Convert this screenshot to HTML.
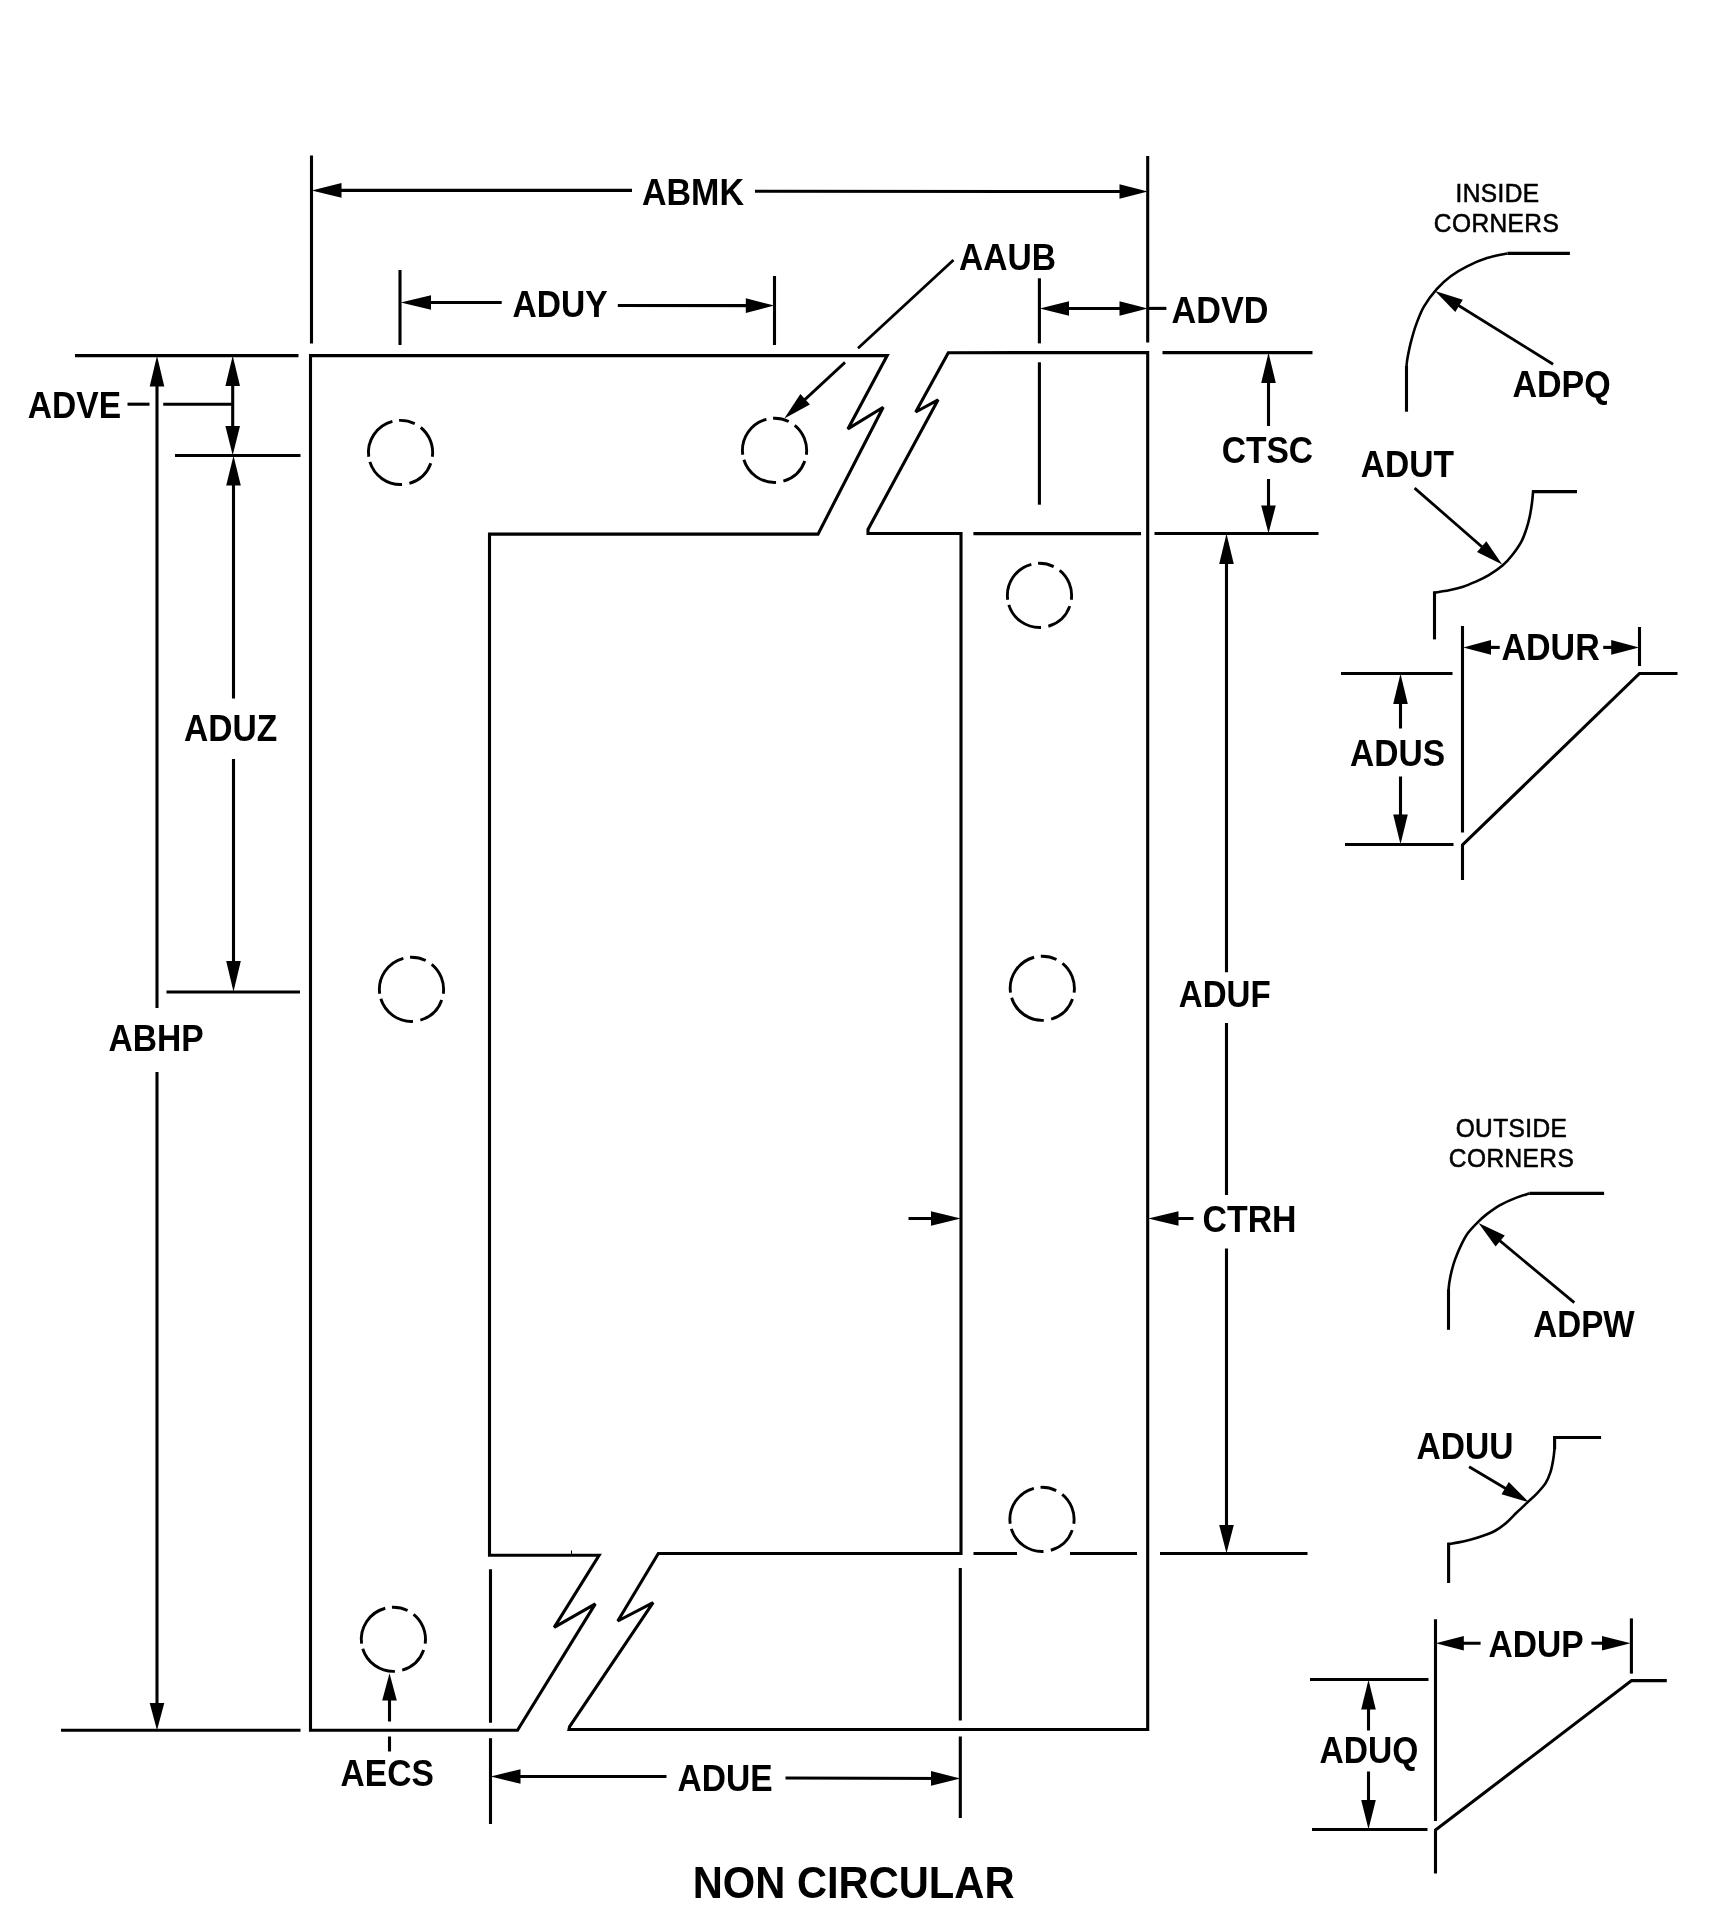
<!DOCTYPE html>
<html><head><meta charset="utf-8"><title>NON CIRCULAR</title>
<style>
html,body{margin:0;padding:0;background:#fff;}
body{width:1712px;height:1916px;overflow:hidden;}
svg{display:block;will-change:transform;}
svg line,svg path{stroke:#000;stroke-width:3.1;fill:none;stroke-linecap:butt;stroke-linejoin:miter;stroke-miterlimit:2.2;}
svg .ah{fill:#000;stroke:none;}
svg text{font-family:"Liberation Sans",sans-serif;fill:#000;}
</style></head><body>
<svg width="1712" height="1916" viewBox="0 0 1712 1916">
<rect x="0" y="0" width="1712" height="1916" fill="#fff" stroke="none"/>
<path d="M517.5,1730.2 L310.5,1730.2 L310.5,355.6 L887.2,355.6 L847.9,428.9 L883.2,407.2 L818,534.1 L489.5,534.1 L489.5,1555.3 L599.1,1555.3 L554.2,1627.4 L595.3,1603.9 L517.5,1730.2 Z"/>
<path d="M948.3,352.7 L1147.7,352.6 L1147.7,1729.5 L569,1729.5 L569.6,1726.6 L653.1,1602.6 L617.8,1621 L658.3,1553.5 L961,1553.5 L961,533.5 L868,533.5 L868,529.4 L938.1,399.8 L915.7,412 Z"/>
<line x1="571.5" y1="1550.5" x2="571.5" y2="1554" style="stroke-width:1"/>
<line x1="973.4" y1="533.6" x2="1141" y2="533.6"/>
<line x1="973.5" y1="1553.5" x2="1017" y2="1553.5"/>
<line x1="1070" y1="1553.5" x2="1137" y2="1553.5"/>
<line x1="490.5" y1="1569.2" x2="490.5" y2="1722.8"/>
<line x1="490.5" y1="1738.2" x2="490.5" y2="1824"/>
<line x1="960.3" y1="1568" x2="960.3" y2="1720.5"/>
<line x1="960.3" y1="1736.5" x2="960.3" y2="1818"/>
<line x1="1039.4" y1="278.3" x2="1039.4" y2="343.4"/>
<line x1="1039.4" y1="362.3" x2="1039.4" y2="504.7"/>
<path d="M399.09,420.38 A32.1,32.1 0 0 1 414.72,423.65 M420.75,427.50 A32.1,32.1 0 0 1 432.35,456.81 M430.81,463.17 A32.1,32.1 0 0 1 409.40,483.31 M402.06,484.51 A32.1,32.1 0 0 1 369.87,461.89 M368.75,456.81 A32.1,32.1 0 0 1 392.40,421.40" style="stroke-width:2.9"/>
<path d="M773.09,418.28 A32.1,32.1 0 0 1 788.72,421.55 M794.75,425.40 A32.1,32.1 0 0 1 806.35,454.71 M804.81,461.07 A32.1,32.1 0 0 1 783.40,481.21 M776.06,482.41 A32.1,32.1 0 0 1 743.87,459.79 M742.75,454.71 A32.1,32.1 0 0 1 766.40,419.30" style="stroke-width:2.9"/>
<path d="M1038.04,563.33 A32.1,32.1 0 0 1 1053.67,566.60 M1059.70,570.45 A32.1,32.1 0 0 1 1071.30,599.76 M1069.76,606.12 A32.1,32.1 0 0 1 1048.35,626.26 M1041.01,627.46 A32.1,32.1 0 0 1 1008.82,604.84 M1007.70,599.76 A32.1,32.1 0 0 1 1031.35,564.35" style="stroke-width:2.9"/>
<path d="M410.04,957.28 A32.1,32.1 0 0 1 425.67,960.55 M431.70,964.40 A32.1,32.1 0 0 1 443.30,993.71 M441.76,1000.07 A32.1,32.1 0 0 1 420.35,1020.21 M413.01,1021.41 A32.1,32.1 0 0 1 380.82,998.79 M379.70,993.71 A32.1,32.1 0 0 1 403.35,958.30" style="stroke-width:2.9"/>
<path d="M1040.84,956.23 A32.1,32.1 0 0 1 1056.47,959.50 M1062.50,963.35 A32.1,32.1 0 0 1 1074.10,992.66 M1072.56,999.02 A32.1,32.1 0 0 1 1051.15,1019.16 M1043.81,1020.36 A32.1,32.1 0 0 1 1011.62,997.74 M1010.50,992.66 A32.1,32.1 0 0 1 1034.15,957.25" style="stroke-width:2.9"/>
<path d="M1040.54,1487.33 A32.1,32.1 0 0 1 1056.17,1490.60 M1062.20,1494.45 A32.1,32.1 0 0 1 1073.80,1523.76 M1072.26,1530.12 A32.1,32.1 0 0 1 1050.85,1550.26 M1043.51,1551.46 A32.1,32.1 0 0 1 1011.32,1528.84 M1010.20,1523.76 A32.1,32.1 0 0 1 1033.85,1488.35" style="stroke-width:2.9"/>
<path d="M391.94,1607.23 A32.1,32.1 0 0 1 407.57,1610.50 M413.60,1614.35 A32.1,32.1 0 0 1 425.20,1643.66 M423.66,1650.02 A32.1,32.1 0 0 1 402.25,1670.16 M394.91,1671.36 A32.1,32.1 0 0 1 362.72,1648.74 M361.60,1643.66 A32.1,32.1 0 0 1 385.25,1608.25" style="stroke-width:2.9"/>
<line x1="311.5" y1="155.5" x2="311.5" y2="343.5"/>
<line x1="1147.7" y1="156" x2="1147.7" y2="342.5"/>
<line x1="632" y1="190.4" x2="320.5" y2="190.4"/>
<polygon class="ah" points="311.7,190.4 341.5,183.1 341.5,197.7"/>
<line x1="755" y1="191.3" x2="1139.0" y2="191.5"/>
<polygon class="ah" points="1147.8,191.5 1119.5,198.8 1119.5,184.2"/>
<line x1="400" y1="270" x2="400" y2="345"/>
<line x1="774.5" y1="276" x2="774.5" y2="345"/>
<line x1="501.7" y1="302.5" x2="409.5" y2="302.5"/>
<polygon class="ah" points="400.7,302.5 431.0,295.2 431.0,309.8"/>
<line x1="617.8" y1="305.5" x2="765.5" y2="305.6"/>
<polygon class="ah" points="774.3,305.6 745.8,312.9 745.8,298.3"/>
<line x1="953.5" y1="260" x2="858" y2="348.2" style="stroke-width:2.8"/>
<line x1="845" y1="362.4" x2="790.8" y2="412.6" style="stroke-width:2.8"/>
<polygon class="ah" points="784.3,418.5 800.4,394.1 809.9,404.4"/>
<line x1="1095" y1="308.5" x2="1048.5" y2="308.5"/>
<polygon class="ah" points="1039.7,308.5 1069.0,301.2 1069.0,315.8"/>
<line x1="1090" y1="308.5" x2="1139.0" y2="308.5"/>
<polygon class="ah" points="1147.8,308.5 1119.5,315.8 1119.5,301.2"/>
<line x1="1148" y1="308.4" x2="1166.4" y2="308.4"/>
<line x1="75" y1="355.6" x2="298.5" y2="355.6"/>
<line x1="175" y1="455.5" x2="300.5" y2="455.5"/>
<line x1="166.5" y1="992" x2="300" y2="992"/>
<line x1="61" y1="1730.3" x2="300.5" y2="1730.3"/>
<line x1="157" y1="1008" x2="157.0" y2="364.5"/>
<polygon class="ah" points="157.0,355.7 164.3,386.5 149.7,386.5"/>
<line x1="157" y1="1072" x2="157.0" y2="1721.5"/>
<polygon class="ah" points="157.0,1730.3 149.7,1703.0 164.3,1703.0"/>
<line x1="232.7" y1="400" x2="232.7" y2="364.5"/>
<polygon class="ah" points="232.7,355.7 240.0,386.0 225.4,386.0"/>
<line x1="232.7" y1="400" x2="232.7" y2="446.5"/>
<polygon class="ah" points="232.7,455.3 225.4,426.0 240.0,426.0"/>
<line x1="127.5" y1="404.2" x2="149.5" y2="404.2"/>
<line x1="163.2" y1="404.2" x2="232" y2="404.2"/>
<line x1="233.5" y1="698.5" x2="233.5" y2="464.5"/>
<polygon class="ah" points="233.5,455.7 240.8,485.5 226.2,485.5"/>
<line x1="233.5" y1="759" x2="233.5" y2="983.0"/>
<polygon class="ah" points="233.5,991.8 226.2,961.0 240.8,961.0"/>
<line x1="1162.5" y1="352.6" x2="1312.5" y2="352.6"/>
<line x1="1154.5" y1="533.5" x2="1318.5" y2="533.5"/>
<line x1="1160" y1="1553.5" x2="1307.5" y2="1553.5"/>
<line x1="1268.5" y1="426" x2="1268.5" y2="361.5"/>
<polygon class="ah" points="1268.5,352.7 1275.8,383.0 1261.2,383.0"/>
<line x1="1268.5" y1="479" x2="1268.5" y2="524.5"/>
<polygon class="ah" points="1268.5,533.3 1261.2,505.5 1275.8,505.5"/>
<line x1="1226.5" y1="972.3" x2="1226.5" y2="542.5"/>
<polygon class="ah" points="1226.5,533.7 1233.8,564.0 1219.2,564.0"/>
<line x1="1226.5" y1="1023" x2="1226.5" y2="1195"/>
<line x1="1226.5" y1="1248.4" x2="1226.5" y2="1544.5"/>
<polygon class="ah" points="1226.5,1553.3 1219.2,1525.0 1233.8,1525.0"/>
<line x1="908.5" y1="1218.5" x2="952.0" y2="1218.5"/>
<polygon class="ah" points="960.8,1218.5 931.0,1225.8 931.0,1211.2"/>
<line x1="1193.5" y1="1218.5" x2="1157.0" y2="1218.5"/>
<polygon class="ah" points="1148.2,1218.5 1178.5,1211.2 1178.5,1225.8"/>
<line x1="389.5" y1="1721.5" x2="389.5" y2="1682.0"/>
<polygon class="ah" points="389.5,1673.2 396.8,1700.5 382.2,1700.5"/>
<line x1="389.5" y1="1736.5" x2="389.5" y2="1751.5"/>
<line x1="666.5" y1="1776.5" x2="499.5" y2="1776.5"/>
<polygon class="ah" points="490.7,1776.5 520.5,1769.2 520.5,1783.8"/>
<line x1="785.5" y1="1778" x2="951.5" y2="1778.5"/>
<polygon class="ah" points="960.3,1778.5 931.0,1785.7 931.0,1771.1"/>
<line x1="1569.9" y1="253.4" x2="1507.4" y2="253.4"/>
<path d="M1507.4,253.4 C1504.0,254.2 1493.7,256.0 1487.0,258.1 C1480.3,260.2 1473.1,263.3 1467.1,266.3 C1461.0,269.3 1455.8,272.4 1450.7,276.2 C1445.6,280.0 1441.2,284.0 1436.7,289.1 C1432.2,294.2 1427.3,300.8 1423.9,306.6 C1420.5,312.4 1418.5,318.3 1416.3,324.1 C1414.1,329.9 1412.5,336.0 1411.0,341.6 C1409.5,347.2 1408.3,353.7 1407.5,358.0 C1406.7,362.3 1406.6,365.8 1406.4,367.3" style="stroke-width:2.6"/>
<line x1="1406.5" y1="366" x2="1406.5" y2="411.7"/>
<line x1="1553.1" y1="364.3" x2="1442.5" y2="295.5" style="stroke-width:2.8"/>
<polygon class="ah" points="1435.0,290.9 1462.8,299.8 1455.3,311.9"/>
<line x1="1414.6" y1="488.1" x2="1495.6" y2="558.7" style="stroke-width:2.8"/>
<polygon class="ah" points="1502.2,564.5 1477.0,551.9 1486.3,541.2"/>
<path d="M1577,491.6 L1533.2,491.6"/>
<path d="M1533.2,490.2 C1533.0,492.3 1532.6,498.3 1532.0,502.7 C1531.4,507.1 1530.7,512.2 1529.7,516.7 C1528.7,521.2 1527.6,525.5 1526.2,529.6 C1524.8,533.7 1523.8,537.0 1521.5,541.3 C1519.2,545.6 1515.2,551.3 1512.1,555.3 C1509.0,559.3 1506.7,561.9 1502.8,565.2 C1498.9,568.5 1493.3,572.4 1488.8,575.1 C1484.3,577.8 1480.2,579.7 1475.9,581.6 C1471.6,583.5 1467.6,585.3 1463.1,586.8 C1458.6,588.2 1453.9,589.3 1449.1,590.3 C1444.3,591.3 1436.9,592.3 1434.5,592.7" style="stroke-width:2.6"/>
<line x1="1434.5" y1="591.3" x2="1434.5" y2="639.4"/>
<line x1="1462.5" y1="626" x2="1462.5" y2="832.5"/>
<line x1="1639.5" y1="627" x2="1639.5" y2="666"/>
<line x1="1499.7" y1="647.4" x2="1472.0" y2="647.4"/>
<polygon class="ah" points="1463.2,647.4 1491.0,640.1 1491.0,654.7"/>
<line x1="1603.2" y1="647.4" x2="1630.2" y2="647.4"/>
<polygon class="ah" points="1639.0,647.4 1611.2,654.7 1611.2,640.1"/>
<path d="M1677.5,673.5 L1639.5,673.5 L1462.5,845 L1462.5,880"/>
<line x1="1341" y1="673.5" x2="1452.5" y2="673.5"/>
<line x1="1345" y1="844.5" x2="1453.5" y2="844.5"/>
<line x1="1400.5" y1="728.5" x2="1400.5" y2="682.5"/>
<polygon class="ah" points="1400.5,673.7 1407.8,704.0 1393.2,704.0"/>
<line x1="1400.5" y1="776.5" x2="1400.5" y2="835.5"/>
<polygon class="ah" points="1400.5,844.3 1393.2,814.5 1407.8,814.5"/>
<line x1="1604.1" y1="1193.4" x2="1529.3" y2="1193.4"/>
<path d="M1529.3,1193.4 C1527.0,1194.2 1520.2,1196.1 1515.3,1198.1 C1510.4,1200.0 1504.8,1202.5 1500.1,1205.1 C1495.4,1207.7 1490.9,1211.1 1487.2,1213.9 C1483.5,1216.7 1481.2,1218.8 1477.9,1222.1 C1474.6,1225.4 1470.3,1229.6 1467.4,1233.7 C1464.5,1237.8 1462.5,1242.3 1460.4,1246.6 C1458.4,1250.9 1456.6,1255.3 1455.1,1259.4 C1453.6,1263.5 1452.6,1267.2 1451.6,1271.1 C1450.6,1275.0 1449.8,1279.5 1449.3,1282.8 C1448.8,1286.1 1448.6,1289.6 1448.5,1291.0" style="stroke-width:2.6"/>
<line x1="1448.5" y1="1289.5" x2="1448.5" y2="1329.8"/>
<line x1="1574.3" y1="1302.7" x2="1485.3" y2="1228.6" style="stroke-width:2.8"/>
<polygon class="ah" points="1478.5,1223.0 1504.8,1235.5 1495.6,1246.6"/>
<line x1="1469.1" y1="1466.7" x2="1521.2" y2="1497.7" style="stroke-width:2.8"/>
<polygon class="ah" points="1528.8,1502.2 1501.5,1494.3 1508.8,1482.0"/>
<path d="M1601.1,1437.5 L1554.6,1437.5 L1554.6,1449.2"/>
<path d="M1554.6,1448.0 C1554.4,1450.0 1553.9,1455.6 1553.2,1459.7 C1552.5,1463.8 1551.6,1468.7 1550.3,1472.6 C1549.0,1476.5 1547.8,1479.6 1545.6,1483.1 C1543.3,1486.6 1539.8,1490.4 1536.8,1493.6 C1533.8,1496.8 1530.8,1499.3 1527.5,1502.4 C1524.2,1505.5 1520.5,1508.9 1517.0,1512.3 C1513.5,1515.7 1510.1,1519.7 1506.4,1522.8 C1502.7,1525.9 1498.7,1528.8 1494.8,1531.0 C1490.9,1533.2 1487.2,1534.2 1483.1,1535.7 C1479.0,1537.2 1474.3,1538.6 1470.2,1539.7 C1466.1,1540.8 1462.2,1541.7 1458.6,1542.4 C1455.0,1543.1 1450.3,1543.8 1448.6,1544.1" style="stroke-width:2.6"/>
<line x1="1448.6" y1="1542.6" x2="1448.6" y2="1583"/>
<line x1="1435.5" y1="1619.2" x2="1435.5" y2="1821"/>
<line x1="1631.4" y1="1618.4" x2="1631.4" y2="1673.6"/>
<line x1="1480.6" y1="1643.2" x2="1444.5" y2="1643.2"/>
<polygon class="ah" points="1435.7,1643.2 1463.8,1635.9 1463.8,1650.5"/>
<line x1="1591.4" y1="1643.2" x2="1621.8" y2="1643.2"/>
<polygon class="ah" points="1630.6,1643.2 1602.0,1650.5 1602.0,1635.9"/>
<path d="M1666.8,1680.6 L1631.6,1680.6 L1435.5,1830 L1435.5,1873.6"/>
<line x1="1310" y1="1679.5" x2="1428.5" y2="1679.5"/>
<line x1="1312" y1="1829.5" x2="1427.5" y2="1829.5"/>
<line x1="1368.5" y1="1730.5" x2="1368.5" y2="1688.5"/>
<polygon class="ah" points="1368.5,1679.7 1375.8,1709.5 1361.2,1709.5"/>
<line x1="1368.5" y1="1771.5" x2="1368.5" y2="1820.5"/>
<polygon class="ah" points="1368.5,1829.3 1361.2,1800.0 1375.8,1800.0"/>
<text transform="translate(642.0,205.3) scale(1.012,1.073)" font-size="33.6" font-weight="bold">ABMK</text>
<text transform="translate(512.5,317.4) scale(1.0,1.073)" font-size="33.6" font-weight="bold">ADUY</text>
<text transform="translate(959.0,270.4) scale(1.0,1.073)" font-size="33.6" font-weight="bold">AAUB</text>
<text transform="translate(1171.5,323.4) scale(1.018,1.073)" font-size="33.6" font-weight="bold">ADVD</text>
<text transform="translate(108.5,1051.4) scale(1.0,1.073)" font-size="33.6" font-weight="bold">ABHP</text>
<text transform="translate(27.8,418.3) scale(1.0,1.073)" font-size="33.6" font-weight="bold">ADVE</text>
<text transform="translate(184.0,741) scale(1.0,1.073)" font-size="33.6" font-weight="bold">ADUZ</text>
<text transform="translate(1221.7,463.4) scale(1.0,1.073)" font-size="33.6" font-weight="bold">CTSC</text>
<text transform="translate(1178.8,1007.3) scale(0.985,1.073)" font-size="33.6" font-weight="bold">ADUF</text>
<text transform="translate(1202.5,1232) scale(1.008,1.073)" font-size="33.6" font-weight="bold">CTRH</text>
<text transform="translate(340.5,1786.4) scale(1.0,1.073)" font-size="33.6" font-weight="bold">AECS</text>
<text transform="translate(677.5,1791) scale(1.0,1.073)" font-size="33.6" font-weight="bold">ADUE</text>
<text transform="translate(692.7,1898) scale(1.0,1.045)" font-size="41.7" font-weight="bold">NON CIRCULAR</text>
<text transform="translate(1497.5,202) scale(1,1.03)" font-size="24.5" text-anchor="middle" letter-spacing="0.4" stroke="#000" stroke-width="0.55">INSIDE</text>
<text transform="translate(1496.5,232) scale(1,1.03)" font-size="24.5" text-anchor="middle" letter-spacing="0.4" stroke="#000" stroke-width="0.55">CORNERS</text>
<text transform="translate(1511.5,1137) scale(1,1.03)" font-size="24.5" text-anchor="middle" letter-spacing="0.4" stroke="#000" stroke-width="0.55">OUTSIDE</text>
<text transform="translate(1511.5,1166.7) scale(1,1.03)" font-size="24.5" text-anchor="middle" letter-spacing="0.4" stroke="#000" stroke-width="0.55">CORNERS</text>
<text transform="translate(1512.5,397.4) scale(1.012,1.073)" font-size="33.6" font-weight="bold">ADPQ</text>
<text transform="translate(1360.8,476.6) scale(1.0,1.073)" font-size="33.6" font-weight="bold">ADUT</text>
<text transform="translate(1501.5,660.4) scale(1.012,1.073)" font-size="33.6" font-weight="bold">ADUR</text>
<text transform="translate(1350.0,766) scale(1.0,1.073)" font-size="33.6" font-weight="bold">ADUS</text>
<text transform="translate(1533.3,1337.1) scale(0.988,1.073)" font-size="33.6" font-weight="bold">ADPW</text>
<text transform="translate(1416.4,1458.8) scale(1.0,1.073)" font-size="33.6" font-weight="bold">ADUU</text>
<text transform="translate(1488.5,1657) scale(1.0,1.073)" font-size="33.6" font-weight="bold">ADUP</text>
<text transform="translate(1319.6,1762.8) scale(1.0,1.073)" font-size="33.6" font-weight="bold">ADUQ</text>
</svg>
</body></html>
